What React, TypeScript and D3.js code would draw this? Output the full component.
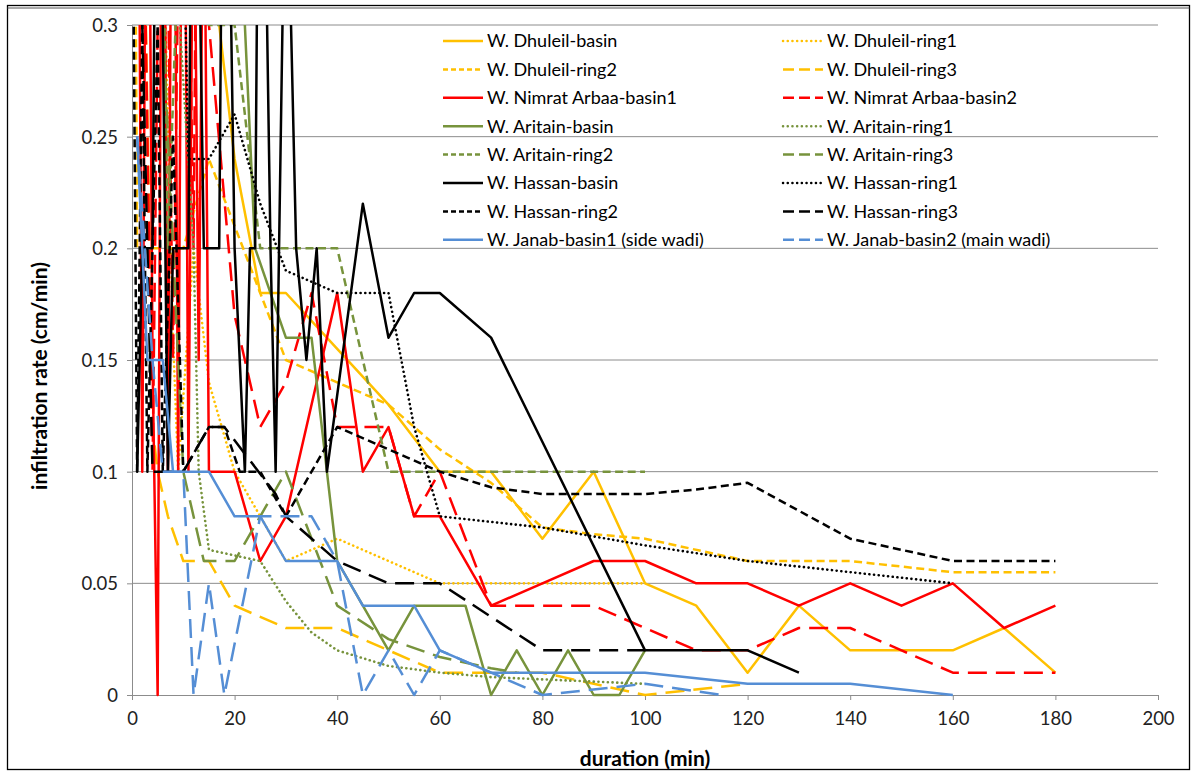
import * as d3 from 'd3'
import { useEffect, useRef } from 'react'

// series values, [duration (min), infiltration rate (cm/min)]
const dhuleilBasin = [[15, 0.34], [20, 0.24], [25, 0.18], [30, 0.18], [40, 0.155], [50, 0.13], [60, 0.1], [70, 0.1], [80, 0.07], [90, 0.1], [100, 0.05], [110, 0.04], [120, 0.01], [130, 0.04], [140, 0.02], [160, 0.02], [170, 0.03], [180, 0.01]]
const dhuleilRing1 = [[5, 0.45], [8, 0.16], [9, 0.1], [12, 0.2], [15, 0.14], [20, 0.1], [30, 0.06], [40, 0.07], [60, 0.05], [80, 0.05], [100, 0.05]]
const dhuleilRing2 = [[0.5, 0.4], [1, 0.2], [10, 0.2], [15, 0.24], [20, 0.21], [25, 0.18], [30, 0.15], [40, 0.14], [50, 0.13], [60, 0.11], [70, 0.095], [80, 0.075], [90, 0.072], [100, 0.07], [120, 0.06], [140, 0.06], [160, 0.055], [180, 0.055]]
const dhuleilRing3 = [[2, 0.4], [4, 0.12], [5, 0.1], [7, 0.08], [10, 0.06], [15, 0.06], [20, 0.04], [30, 0.03], [40, 0.03], [50, 0.02], [60, 0.01], [70, 0.01], [80, 0.01], [90, 0.005], [100, 0], [120, 0.005]]
const nimratBasin1 = [[1, 0.5], [2, 0.1], [3, 0.5], [4, 0.15], [5, 0], [6, 0.5], [7, 0.1], [8, 0.5], [9, 0.1], [10, 0.5], [11, 0.1], [12, 0.4], [13, 0.15], [14, 0.4], [15, 0.1], [20, 0.1], [25, 0.06], [30, 0.08], [40, 0.18], [45, 0.1], [50, 0.12], [55, 0.08], [60, 0.08], [70, 0.04], [80, 0.05], [90, 0.06], [100, 0.06], [110, 0.05], [120, 0.05], [130, 0.04], [140, 0.05], [150, 0.04], [160, 0.05], [170, 0.03], [180, 0.04]]
const nimratBasin2 = [[2, 0.4], [4, 0.1], [6, 0.5], [8, 0.15], [10, 0.5], [12, 0.2], [13, 0.5], [15, 0.3], [20, 0.17], [25, 0.12], [30, 0.14], [35, 0.18], [40, 0.12], [45, 0.12], [50, 0.12], [55, 0.08], [60, 0.1], [70, 0.04], [80, 0.04], [90, 0.04], [100, 0.03], [110, 0.02], [120, 0.02], [130, 0.03], [140, 0.03], [150, 0.02], [160, 0.01], [170, 0.01], [180, 0.01]]
const aritainBasin = [[5, 0.5], [10, 0.35], [15, 0.45], [20, 0.4], [24, 0.2], [30, 0.16], [35, 0.16], [40, 0.06], [45, 0.04], [50, 0.02], [55, 0.04], [60, 0.04], [65, 0.04], [70, 0], [75, 0.02], [80, 0], [85, 0.02], [90, 0], [95, 0], [100, 0.02]]
const aritainRing1 = [[3, 0.5], [8, 0.35], [12, 0.2], [13, 0.1], [15, 0.065], [25, 0.06], [30, 0.042], [35, 0.028], [40, 0.02], [50, 0.013], [60, 0.01], [70, 0.008], [80, 0.007], [90, 0.006], [100, 0.005]]
const aritainRing2 = [[5, 0.5], [7, 0.2], [10, 0.4], [15, 0.3], [20, 0.3], [25, 0.2], [30, 0.2], [35, 0.2], [40, 0.2], [50, 0.1], [60, 0.1], [70, 0.1], [80, 0.1], [90, 0.1], [100, 0.1]]
const aritainRing3 = [[4, 0.4], [10, 0.1], [14, 0.06], [20, 0.06], [30, 0.1], [40, 0.04], [50, 0.025], [60, 0.017], [70, 0.012], [75, 0.01]]
const hassanBasin = [[1, 0.1], [2, 0.2], [4, 0.2], [5, 0.5], [7, 0.1], [8, 0.2], [11, 0.2], [12, 0.5], [14, 0.2], [17, 0.2], [18, 0.5], [20, 0.2], [22, 0.1], [23, 0.2], [24, 0.2], [25, 0.5], [27, 0.2], [28, 0.1], [30, 0.4], [32, 0.2], [34, 0.15], [36, 0.2], [38, 0.1], [45, 0.22], [50, 0.16], [55, 0.18], [60, 0.18], [70, 0.16], [100, 0.02], [120, 0.02], [130, 0.01]]
const hassanRing1 = [[5, 0.5], [10, 0.35], [11, 0.24], [15, 0.24], [20, 0.26], [25, 0.22], [30, 0.19], [40, 0.18], [50, 0.18], [55, 0.12], [60, 0.08], [80, 0.075], [100, 0.067], [120, 0.06], [140, 0.055], [160, 0.05]]
const hassanRing2 = [[0, 0.4], [1, 0.1], [2, 0.3], [3, 0.1], [5, 0.3], [6, 0.1], [8, 0.25], [10, 0.1], [15, 0.12], [18, 0.12], [21, 0.1], [25, 0.1], [30, 0.08], [40, 0.12], [50, 0.11], [60, 0.1], [70, 0.093], [80, 0.09], [90, 0.09], [100, 0.09], [110, 0.092], [120, 0.095], [140, 0.07], [160, 0.06], [180, 0.06]]
const hassanRing3 = [[2, 0.3], [4, 0.1], [10, 0.1], [15, 0.12], [18, 0.12], [28, 0.09], [30, 0.08], [40, 0.06], [50, 0.05], [60, 0.05], [70, 0.035], [80, 0.02], [90, 0.02], [100, 0.02]]
const janabBasin1 = [[1, 0.25], [3, 0.15], [6, 0.15], [8, 0.1], [15, 0.1], [20, 0.08], [25, 0.08], [30, 0.06], [35, 0.06], [40, 0.06], [45, 0.04], [50, 0.04], [55, 0.04], [60, 0.02], [70, 0.01], [80, 0.01], [90, 0.01], [100, 0.01], [120, 0.005], [140, 0.005], [160, 0]]
const janabBasin2 = [[1, 0.25], [4, 0.15], [6, 0.1], [10, 0.1], [12, 0], [15, 0.05], [18, 0], [25, 0.08], [30, 0.08], [35, 0.08], [40, 0.06], [45, 0], [50, 0.02], [55, 0], [60, 0.02], [70, 0.01], [80, 0], [100, 0.005], [115, 0]]

const seriesNames = [
  'W. Dhuleil-basin', 'W. Dhuleil-ring1', 'W. Dhuleil-ring2', 'W. Dhuleil-ring3',
  'W. Nimrat Arbaa-basin1', 'W. Nimrat Arbaa-basin2',
  'W. Aritain-basin', 'W. Aritain-ring1', 'W. Aritain-ring2', 'W. Aritain-ring3',
  'W. Hassan-basin', 'W. Hassan-ring1', 'W. Hassan-ring2', 'W. Hassan-ring3',
  'W. Janab-basin1 (side wadi)', 'W. Janab-basin2 (main wadi)',
]
const seriesData = [
  dhuleilBasin, dhuleilRing1, dhuleilRing2, dhuleilRing3,
  nimratBasin1, nimratBasin2,
  aritainBasin, aritainRing1, aritainRing2, aritainRing3,
  hassanBasin, hassanRing1, hassanRing2, hassanRing3,
  janabBasin1, janabBasin2,
]
const xTicks = [0, 20, 40, 60, 80, 100, 120, 140, 160, 180, 200]
const yTicks = [0, 0.05, 0.1, 0.15, 0.2, 0.25, 0.3]

const GOLD = '#FFC000'
const RED = '#FF0000'
const GREEN = '#77933C'
const BLACK = '#000000'
const BLUE = '#558ED5'

// line styles
const SOLID = ''
const DOT = '0.1,4.6'
const SHORT = '8,4.5'
const LONG = '19,9'

const seriesColor = [GOLD, GOLD, GOLD, GOLD, RED, RED, GREEN, GREEN, GREEN, GREEN, BLACK, BLACK, BLACK, BLACK, BLUE, BLUE]
const seriesDash = [SOLID, DOT, SHORT, LONG, SOLID, LONG, SOLID, DOT, SHORT, LONG, SOLID, DOT, SHORT, LONG, SOLID, LONG]

const FONT = 'Lato, "Open Sans", sans-serif'

export default function App() {
  const svgRef = useRef(null)

  const width = 1197
  const height = 775
  const left = 132
  const right = 1158
  const top = 25
  const bottom = 695

  useEffect(() => {
    const svg = d3.select(svgRef.current)
    svg.selectAll('*').remove()

    const xScale = d3.scaleLinear().domain([0, 200]).range([left, right])
    const yScale = d3.scaleLinear().domain([0, 0.3]).range([bottom, top])

    svg.append('rect')
      .attr('width', width).attr('height', height).attr('fill', '#fff')

    // chart frame
    svg.append('rect')
      .attr('x', 7.5).attr('y', 5.5).attr('width', 1182).attr('height', 764)
      .attr('fill', 'none').attr('stroke', '#000').attr('stroke-width', 1.3)
    svg.append('line')
      .attr('x1', 7.5).attr('x2', 1189.5).attr('y1', 8).attr('y2', 8)
      .attr('stroke', '#555').attr('stroke-width', 1)

    // gridlines
    svg.append('g')
      .selectAll('line')
      .data(yTicks.slice(1))
      .enter()
      .append('line')
      .attr('x1', left).attr('x2', right)
      .attr('y1', d => yScale(d)).attr('y2', d => yScale(d))
      .attr('stroke', '#8c8c8c').attr('stroke-width', 1)

    // axes
    const yAxis = d3.axisLeft(yScale).tickValues(yTicks).tickSize(5).tickFormat(d => String(d))
    const gy = svg.append('g').attr('transform', `translate(${left},0)`).call(yAxis)
    gy.select('.domain').attr('stroke', '#8c8c8c')
    gy.selectAll('.tick line').attr('stroke', '#8c8c8c')
    gy.selectAll('text')
      .attr('x', -14).attr('dy', '0.35em')
      .style('font-family', FONT).style('font-size', '18.5px').attr('fill', '#222')

    const xAxis = d3.axisBottom(xScale).tickValues(xTicks).tickSize(5).tickFormat(d => String(d))
    const gx = svg.append('g').attr('transform', `translate(0,${bottom})`).call(xAxis)
    gx.select('.domain').attr('stroke', '#8c8c8c')
    gx.selectAll('.tick line').attr('stroke', '#8c8c8c')
    gx.selectAll('text')
      .attr('y', 17)
      .style('font-family', FONT).style('font-size', '18.5px').attr('fill', '#222')

    // axis titles
    svg.append('text')
      .attr('transform', `translate(47,376) rotate(-90)`)
      .attr('text-anchor', 'middle')
      .style('font-family', FONT).style('font-size', '21px').style('font-weight', 'bold')
      .text('infiltration rate (cm/min)')
    svg.append('text')
      .attr('x', 645).attr('y', 766)
      .attr('text-anchor', 'middle')
      .style('font-family', FONT).style('font-size', '21px').style('font-weight', 'bold')
      .text('duration (min)')

    // series
    svg.append('clipPath').attr('id', 'plot-clip')
      .append('rect')
      .attr('x', left - 2).attr('y', top).attr('width', right - left + 4).attr('height', bottom - top + 2)

    const line = d3.line<number[]>()
      .x(d => xScale(d[0]))
      .y(d => yScale(d[1]))

    const plot = svg.append('g').attr('clip-path', 'url(#plot-clip)')
    seriesData.forEach((data, i) => {
      plot.append('path')
        .datum(data)
        .attr('d', line)
        .attr('fill', 'none')
        .attr('stroke', seriesColor[i])
        .attr('stroke-width', seriesDash[i] === DOT ? 2.6 : 2.5)
        .attr('stroke-dasharray', seriesDash[i] || null)
        .attr('stroke-linecap', seriesDash[i] === DOT ? 'round' : 'butt')
        .attr('stroke-linejoin', 'round')
    })

    // legend, two columns
    const legend = svg.append('g')
    seriesNames.forEach((name, i) => {
      const col = i % 2
      const row = Math.floor(i / 2)
      const lx = col === 0 ? 443 : 783
      const ly = 41 + row * 28.4
      legend.append('line')
        .attr('x1', lx).attr('x2', lx + 40).attr('y1', ly).attr('y2', ly)
        .attr('stroke', seriesColor[i])
        .attr('stroke-width', 2.5)
        .attr('stroke-dasharray', seriesDash[i] === LONG ? '11,5' : seriesDash[i] === SHORT ? '5,3' : seriesDash[i] || null)
        .attr('stroke-linecap', seriesDash[i] === DOT ? 'round' : 'butt')
      legend.append('text')
        .attr('x', lx + 44).attr('y', ly).attr('dy', '0.35em')
        .style('font-family', FONT).style('font-size', '18px').attr('fill', '#000')
        .text(name)
    })
  }, [])

  return (
    <div style={{ position: 'absolute', left: 0, top: 0 }}>
      <svg ref={svgRef} width={width} height={height}></svg>
    </div>
  )
}
